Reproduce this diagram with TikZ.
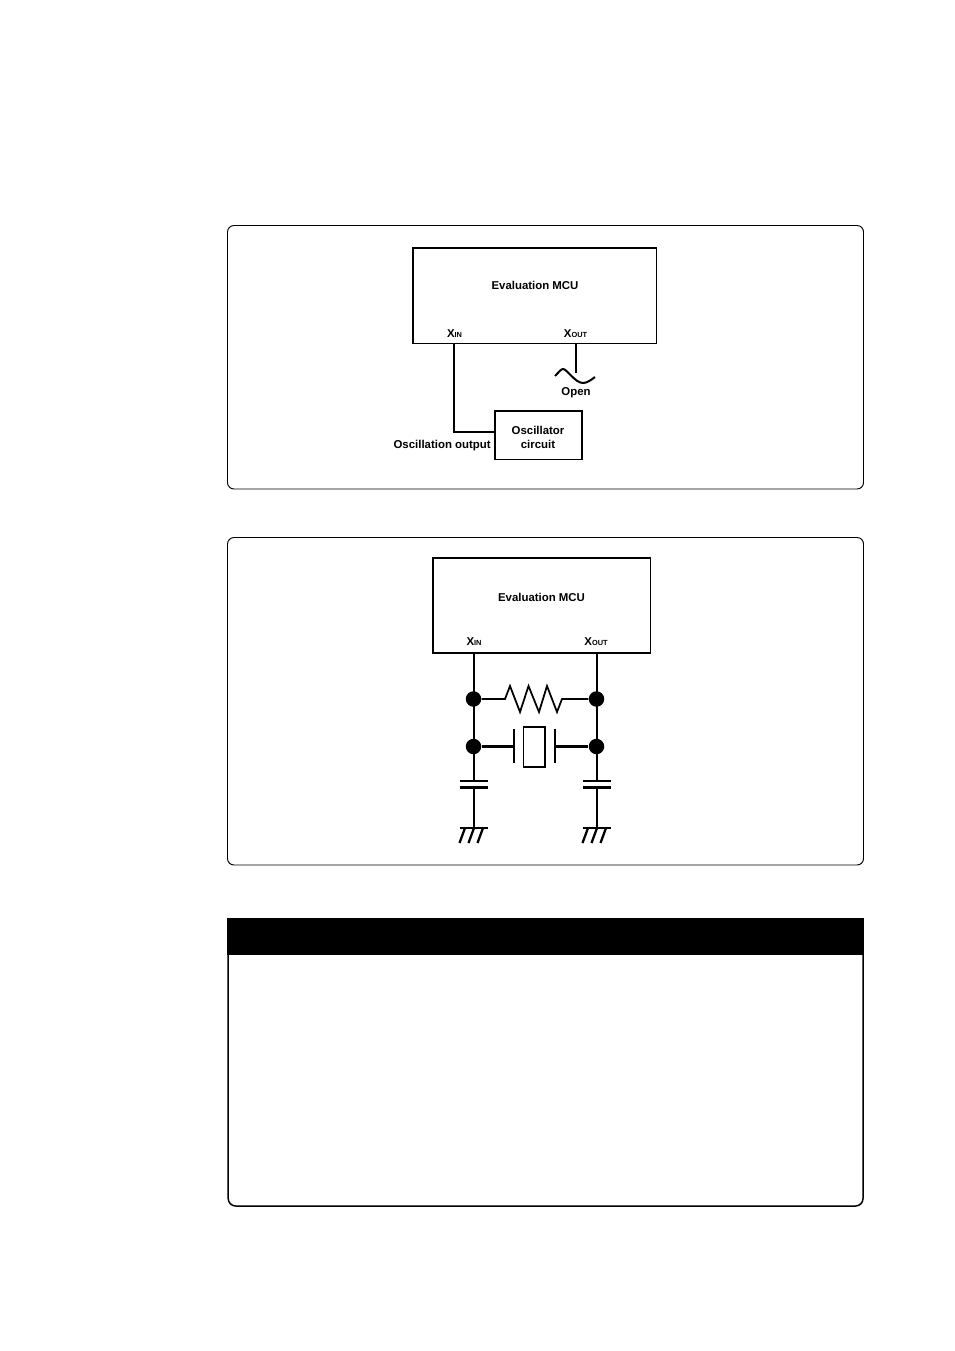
\documentclass[tikz,border=0pt]{standalone}
\usepackage{fontspec}
\setmainfont{Liberation Sans}
\newcommand{\pxu}{0.02cm}
\newcommand{\pinname}[2]{\textbf{#1}\raisebox{-0.1ex}{\fontsize{4.2pt}{5pt}\selectfont #2}}
\tikzset{
  thinline/.style={line width=1pt},
  wire/.style={line width=1.15pt},
  panel/.style={line width=0.55pt,rounded corners=0.13cm},
  chipbox/.style={draw,line width=0.85pt,inner sep=0pt},
  lbl/.style={inner sep=0pt,align=center,font=\fontsize{6.5pt}{7.6pt}\selectfont\bfseries},
  junction/.style={circle,fill,inner sep=0pt,minimum size=15.5*\pxu}
}
\begin{document}
\begin{tikzpicture}[x=0.02cm,y=-0.02cm]
  \useasboundingbox (0,0) rectangle (954,1351);
  % upper panel
  \draw[panel] (227.5,225.5) rectangle (863.5,489);
  \node[chipbox,minimum width=243.5*\pxu,minimum height=95.5*\pxu](mcua)at(534.75,295.75){};
  \node[lbl](mcualbl)at(535,285.5){Evaluation MCU};
  \node[lbl](xina)at(454.5,333.5){\pinname{X}{IN}};
  \node[lbl](xouta)at(575.5,333.5){\pinname{X}{OUT}};
  \coordinate(xinapin)at(454,343.5);
  \coordinate(xoutapin)at(576,343.5);
  \coordinate(xoutaend)at(576,373);
  \node[chipbox,minimum width=87*\pxu,minimum height=48.5*\pxu](osc)at(538.5,435.25){};
  \node[lbl](osclbl)at(538,437.5){Oscillator\\circuit};
  \coordinate(oscin)at(495,432);
  \draw[wire](xinapin)|-(oscin);
  \draw[wire](xoutapin)--(xoutaend);
  \draw[wire](555,376) .. controls (559,372) and (561,369) .. (563,369)
    .. controls (567,369) and (575,383) .. (583,383) .. controls (587,383) and (591,380) .. (595,377);
  \node[lbl](open)at(576,393){Open};
  \node[lbl,anchor=east](output)at(491,445.5){Oscillation output};
  % middle panel
  \draw[panel] (227.5,537.5) rectangle (863.5,865);
  \node[chipbox,minimum width=217.5*\pxu,minimum height=95*\pxu](mcub)at(541.75,605.5){};
  \node[lbl](mcublbl)at(541.5,597.5){Evaluation MCU};
  \node[lbl](xinb)at(474,641.5){\pinname{X}{IN}};
  \node[lbl](xoutb)at(596,641.5){\pinname{X}{OUT}};
  \foreach \side/\x in {l/474,r/597}{
    \coordinate(top\side)at(\x,653);
    \node[junction](res\side)at(\x-0.5,699){};
    \node[junction](xtal\side)at(\x-0.5,746.5){};
    \coordinate(capa\side)at(\x,781);
    \coordinate(capb\side)at(\x,787.5);
    \coordinate(gnd\side)at(\x,828);
    \draw[wire](top\side)--(capa\side);
    \draw[wire](capb\side)--(gnd\side);
    \draw[wire]([xshift=-14.5*\pxu]capa\side)--([xshift=14*\pxu]capa\side);
    \draw[wire]([xshift=-14.5*\pxu]capb\side)--([xshift=14*\pxu]capb\side);
    \draw[thinline]([xshift=-14.5*\pxu]gnd\side)--([xshift=13.5*\pxu]gnd\side);
    \foreach \d in {-9,0,9}
      \draw[line width=1.3pt]([xshift=\d*\pxu]gnd\side)--++(-5.5,15);
  }
  \draw[thinline](resl)--(505,699)--(510,686)--(520,712)--(528.5,686)--(539,712)--(547,686)--(557,712)--(562,699)--(resr);
  \node[chipbox,line width=1pt,minimum width=21.5*\pxu,minimum height=40.5*\pxu](xtal)at(534.25,747){};
  \coordinate(plateltop)at(514,729);
  \coordinate(platelbot)at(514,763);
  \coordinate(platertop)at(555,729);
  \coordinate(platerbot)at(555,763);
  \draw[wire](plateltop)--(platelbot);
  \draw[wire](platertop)--(platerbot);
  \draw[wire](xtall)--(plateltop|-xtall);
  \draw[wire](platertop|-xtalr)--(xtalr);
  % lower panel
  \fill(227,918)rectangle(864,955);
  \draw[line width=0.85pt,rounded corners=0.15cm](228.2,955)--(228.2,1206)--(863,1206)--(863,955);
\end{tikzpicture}
\end{document}
